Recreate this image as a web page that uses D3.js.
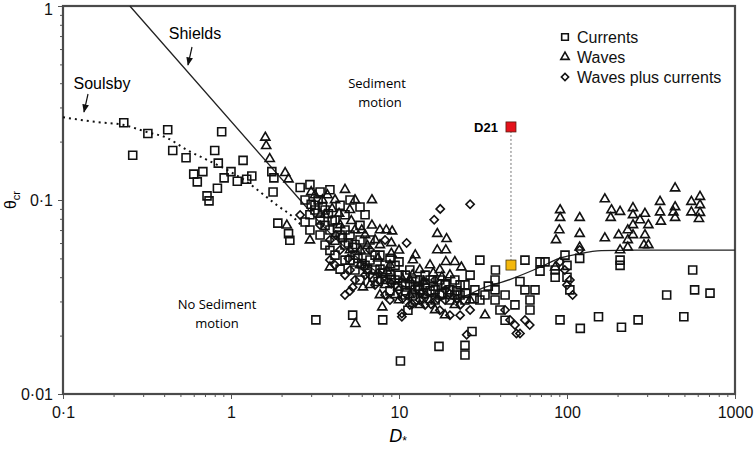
<!DOCTYPE html>
<html>
<head>
<meta charset="utf-8">
<script src="https://cdn.jsdelivr.net/npm/d3@7"></script>
<style>
    body { margin: 0; background: #fff; }
    text { font-family: "Liberation Sans", Arial, sans-serif; }
    .region { font-family: "Open Sans", sans-serif; font-size: 13px; }
    .marker { fill: none; stroke: #111; stroke-width: 1.6; }
</style>
</head>
<body>
<div id="chart"></div>
<script>
const width = 754
const height = 451
const margin = {
    top: 6,
    bottom: 57,
    left: 63,
    right: 19
}

// [D*, theta_cr]
const currents = [
    [0.23,0.25],[0.26,0.17],[0.32,0.22],[0.42,0.23],[0.45,0.18],[0.54,0.165],[0.6,0.136],[0.63,0.124],
    [0.68,0.14],[0.72,0.105],[0.74,0.099],[0.80,0.18],[0.84,0.155],[0.83,0.115],[0.88,0.225],[0.91,0.13],
    [1.0,0.14],[1.09,0.125],[1.18,0.16],[1.24,0.128],[1.33,0.133],[1.78,0.11],[1.75,0.14],[1.8,0.13],
    [1.9,0.076],[2.2,0.067],[2.24,0.062],
    [2.58,0.116],[2.95,0.12],[3.39,0.11],[3.88,0.113],[2.76,0.1],[3.16,0.094],[4.46,0.094],[5.11,0.1],
    [5.86,0.092],[4.77,0.084],[6.28,0.084],[2.95,0.084],[3.63,0.074],[3.39,0.066],[4.16,0.062],[3.88,0.055],
    [4.77,0.07],[5.47,0.059],[5.86,0.074],[5.11,0.049],[4.46,0.044],[6.28,0.046],[7.2,0.052],[7.71,0.044],
    [8.26,0.039],[9.47,0.046],[8.84,0.034],[10,0.041],[10.9,0.0365],[11.6,0.0436],[12.5,0.0387],[13.3,0.0344],
    [14.3,0.041],[15.3,0.034],[16.4,0.0305],[18.8,0.0365],[20.1,0.0305],[21.5,0.0387],[23.1,0.0324],[24.7,0.0365],
    [26.5,0.041],[34,0.036],[37.5,0.0436],[30.3,0.049],
    [37.3,0.0387],[37.3,0.0344],[37.3,0.0305],[39.9,0.0271],[42.8,0.024],[42.8,0.0324],[52.5,0.038],[56.2,0.049],
    [56.2,0.0344],[60.2,0.0305],[60.2,0.0271],[64.5,0.0344],[69.1,0.048],[69.1,0.043],[49,0.0288],
    [97.3,0.052],[100,0.046],[100,0.04],[104,0.0344],[85,0.0436],[85,0.040],[74,0.048],[119,0.050],[207,0.049],[207,0.046],
    [3.16,0.0888],[3.39,0.0788],[3.63,0.0888],[3.88,0.07],[4.16,0.0788],[4.46,0.066],[4.77,0.0586],[5.11,0.066],
    [5.47,0.052],[5.86,0.0622],[6.28,0.0552],[6.72,0.0491],[7.2,0.0436],[8.26,0.0462],[8.84,0.0411],[9.47,0.0387],
    [10.9,0.041],[11.6,0.0365],[12.5,0.0344],[13.3,0.0387],[15.3,0.0387],[16.4,0.0344],[17.5,0.0387],[17.5,0.0324],
    [20.1,0.0344],[21.5,0.0324],[24.7,0.0305],[4.77,0.049],[5.47,0.0436],[5.86,0.0387],[4.16,0.052],[3.63,0.0586],
    [2.95,0.07],[2.76,0.077],[6.72,0.0622],[7.7,0.052],[8.84,0.05],[10,0.048],[10.9,0.0324],[12.5,0.0305],
    [14.3,0.0365],[23.1,0.0365],[28.3,0.0344],[30.3,0.0305],[32.5,0.0324],
    [3.0,0.095],[3.3,0.1],[3.5,0.092],[3.8,0.085],[4.0,0.078],[4.3,0.072],[4.6,0.064],[5.0,0.06],[5.3,0.057],
    [5.7,0.05],[6.0,0.047],[6.5,0.044],[7.0,0.04],[7.5,0.038],[8.0,0.042],[9.0,0.039],[9.8,0.036],[11,0.034],
    [12,0.032],[13,0.036],[14,0.033],[16,0.036],[18,0.033],[19,0.037],[22,0.034],[25,0.033],[28,0.031],
    [3.2,0.0241],[5.3,0.0255],[8.0,0.0241],[11.3,0.027],[10.2,0.0148],[17.3,0.0176],[24.7,0.0178],[24.7,0.0159],
    [27.2,0.021],[90.9,0.0241],[120,0.0218],[154,0.025],[211,0.0221],[265,0.0241],[392,0.0324],[496,0.025],
    [560,0.0436],[575,0.0344],[710,0.0331]
]

const waves = [
    [1.6,0.21],[1.62,0.19],[1.7,0.163],[2.1,0.138],[2.2,0.128],[2.15,0.074],
    [3.75,0.106],[6.9,0.1],[6.9,0.074],[8.4,0.07],[9.1,0.069],[7.7,0.0586],[9.0,0.06],[9.0,0.053],[12.1,0.049],
    [3.88,0.045],[6.1,0.0355],[7.7,0.0324],[7.95,0.028],[5.5,0.023],[16.9,0.067],[19.2,0.063],[16.9,0.0552],
    [19,0.0552],[19,0.048],[32.5,0.0255],[15.3,0.0305],[13.3,0.0288],[11.6,0.0324],[10,0.0305],[5.1,0.089],
    [2.95,0.062],[3.4,0.084],[5.9,0.055],[21.5,0.048],[23.5,0.045],[26.5,0.0305],
    [3.16,0.106],[4.16,0.1],[4.77,0.113],[5.47,0.1],[3.63,0.084],[4.46,0.0743],[5.47,0.07],[6.28,0.066],
    [7.2,0.0622],[5.11,0.0552],[5.86,0.0462],[6.72,0.0365],[8.26,0.0365],[9.47,0.0324],[11.6,0.0387],[13.3,0.0436],
    [15.3,0.0462],[17.5,0.0436],[20.1,0.041],[21.5,0.0288],[16.4,0.0271],[18.8,0.0255],[8.84,0.0462],[10,0.055],
    [12.5,0.052],[7.7,0.07],
    [3.0,0.11],[3.5,0.1],[4.0,0.09],[4.4,0.085],[5.2,0.078],[6.0,0.07],[6.5,0.058],[7.5,0.05],[8.5,0.043],
    [10.5,0.039],[12,0.041],[14,0.038],[16,0.042],[18,0.04],
    [91,0.0888],[91,0.081],[90,0.07],[86,0.0622],[119,0.081],[119,0.067],[119,0.057],[85,0.045],
    [168,0.101],[184,0.0888],[207,0.087],[182,0.081],[168,0.0636],[203,0.066],[247,0.091],[247,0.0837],
    [247,0.0743],[247,0.066],[230,0.07],[230,0.0622],[272,0.0788],[291,0.085],[305,0.0743],[291,0.066],
    [305,0.0586],[207,0.0552],[230,0.057],[287,0.0586],[358,0.098],[358,0.0865],[362,0.0775],[440,0.115],
    [440,0.092],[440,0.081],[430,0.0865],[550,0.098],[619,0.104],[619,0.0942],[550,0.0865],[619,0.086],[610,0.08]
]

const wavesPlusCurrents = [
    [17.6,0.09],[16.2,0.079],[26.5,0.095],[11.1,0.06],[4.77,0.0324],[5.1,0.034],[5.3,0.0355],[10.4,0.026],
    [10.4,0.025],[25.3,0.0202],[50,0.0205],[52.5,0.0205],
    [3.88,0.0491],[4.46,0.0552],[6.72,0.041],[7.2,0.0365],[13.3,0.0305],[14.3,0.0288],[17.5,0.027],[20.1,0.0255],
    [26.5,0.0271],[42.8,0.0271],[45.8,0.0241],[49,0.0227],[56.2,0.0241],[60,0.0227],[97,0.0436],[100,0.0365],
    [104,0.0387],[108,0.0324],[119,0.0552],[91,0.048],[9.47,0.0365],[8.26,0.0324],[18.8,0.0305],[23.1,0.0288],
    [3.39,0.0743],[2.58,0.0837],
    [4.16,0.0462],[4.77,0.041],[5.47,0.0387],[6.28,0.041],[7.7,0.0387],[8.84,0.0305],[10,0.0344],[11.6,0.0288],
    [14.3,0.0324],[16.4,0.0387],[18.8,0.0344],[23.1,0.0255],[3.88,0.0622],[5.11,0.0436],[6.72,0.0552],[8.26,0.0622],
    [4.2,0.066],[5.0,0.05],[6.2,0.045],[7.5,0.042],[9,0.037],[10.5,0.031],[12,0.029],[13.5,0.033],[15.5,0.029],
    [17,0.031],[20,0.033],[22,0.031]
]

const shieldsCurve = [
    [0.25,1.0],[2.58,0.1],[3.5,0.074],[5,0.055],[7,0.044],[10,0.037],[15,0.032],[20,0.031],[26,0.0325],
    [30,0.0345],[46,0.039],[69,0.045],[90,0.05],[120,0.053],[160,0.0548],[250,0.0552],[1000,0.0552]
]

const soulsbyCurve = [
    [0.1,0.267],[0.159,0.252],[0.228,0.244],[0.316,0.224],[0.416,0.209],[0.547,0.181],[0.72,0.161],
    [0.946,0.143],[1.245,0.124],[1.49,0.11],[1.88,0.094],[2.34,0.0817],[2.68,0.0726]
]

const d21 = [46.4, 0.238]
const d21Model = [46.4, 0.0462]

const xTicks = [0.1, 1, 10, 100, 1000]
const xTickLabels = ["0·1", "1", "10", "100", "1000"]
const yTicks = [0.01, 0.1, 1]
const yTickLabels = ["0·01", "0·1", "1"]

const legendItems = ["Currents", "Waves", "Waves plus currents"]

const svg = d3.select("div#chart").append("svg").attr("width", width).attr("height", height)

const x = d3.scaleLog().domain([0.1, 1000]).range([margin.left, width - margin.right])
const y = d3.scaleLog().domain([0.01, 1]).range([height - margin.bottom, margin.top])

const minor = (lo, hi) => {
    let out = []
    for (let d = lo; d < hi; d *= 10) for (let k = 2; k <= 9; k++) out.push(d * k)
    return out
}

const axisGroup = svg.append("g").attr("id", "axisGroup")
const xMinor = axisGroup.append("g").attr("transform", `translate(0, ${height - margin.bottom})`)
    .call(d3.axisBottom(x).tickValues(minor(0.1, 1000)).tickSize(3).tickFormat(""))
const xMajor = axisGroup.append("g").attr("transform", `translate(0, ${height - margin.bottom})`)
    .call(d3.axisBottom(x).tickValues(xTicks).tickSize(5).tickPadding(8).tickFormat((d, i) => xTickLabels[i]))
const yMinor = axisGroup.append("g").attr("transform", `translate(${margin.left}, 0)`)
    .call(d3.axisLeft(y).tickValues(minor(0.01, 1)).tickSize(3).tickFormat(""))
const yMajor = axisGroup.append("g").attr("transform", `translate(${margin.left}, 0)`)
    .call(d3.axisLeft(y).tickValues(yTicks).tickSize(5).tickPadding(5).tickFormat((d, i) => yTickLabels[i]))

axisGroup.selectAll(".domain").remove()
axisGroup.selectAll(".tick line").attr("stroke", "#555")
axisGroup.selectAll(".tick text").attr("font-size", 16).attr("fill", "#111")
    .attr("font-family", "'Liberation Sans', Arial, sans-serif")
// keep the top label inside the picture
yMajor.selectAll(".tick text").filter(d => d == 1).attr("dy", "0.5em")

// frame
svg.append("rect").attr("x", margin.left).attr("y", margin.top)
    .attr("width", width - margin.left - margin.right).attr("height", height - margin.top - margin.bottom)
    .attr("fill", "none").attr("stroke", "#4a4a4a").attr("stroke-width", 2.2)

const elementGroup = svg.append("g").attr("id", "elementGroup")

// curves
const line = d3.line().x(d => x(d[0])).y(d => y(d[1])).curve(d3.curveMonotoneX)
elementGroup.append("path").datum(shieldsCurve).attr("d", line)
    .attr("fill", "none").attr("stroke", "#222").attr("stroke-width", 1.3)
elementGroup.append("path").datum(soulsbyCurve).attr("d", line)
    .attr("fill", "none").attr("stroke", "#111").attr("stroke-width", 2)
    .style("stroke-dasharray", ("2, 4"))

// markers
const square = d3.symbol().type(d3.symbolSquare).size(64)
const triangle = d3.symbol().type(d3.symbolTriangle).size(36)
const diamond = d3.symbol().type(d3.symbolSquare).size(34)

elementGroup.selectAll("path.cur").data(currents).enter().append("path")
    .attr("class", "marker cur").attr("d", square)
    .attr("transform", d => `translate(${x(d[0])}, ${y(d[1])})`)
elementGroup.selectAll("path.wav").data(waves).enter().append("path")
    .attr("class", "marker wav").attr("d", triangle)
    .attr("transform", d => `translate(${x(d[0])}, ${y(d[1])})`)
elementGroup.selectAll("path.wpc").data(wavesPlusCurrents).enter().append("path")
    .attr("class", "marker wpc").attr("d", diamond)
    .attr("transform", d => `translate(${x(d[0])}, ${y(d[1])}) rotate(45)`)

// D21
elementGroup.append("line")
    .attr("x1", x(d21[0])).attr("x2", x(d21Model[0]))
    .attr("y1", y(d21[1])).attr("y2", y(d21Model[1]))
    .attr("stroke", "#777").attr("stroke-width", 1).style("stroke-dasharray", ("2, 2"))
elementGroup.append("rect")
    .attr("x", x(d21[0]) - 5).attr("y", y(d21[1]) - 5).attr("width", 10).attr("height", 10)
    .attr("fill", "#e5121b").attr("stroke", "#5a1a10").attr("stroke-width", 0.8)
elementGroup.append("rect")
    .attr("x", x(d21Model[0]) - 5).attr("y", y(d21Model[1]) - 5).attr("width", 10).attr("height", 10)
    .attr("fill", "#f4b80c").attr("stroke", "#4a3a10").attr("stroke-width", 0.8)
elementGroup.append("text").text("D21")
    .attr("x", x(d21[0]) - 13).attr("y", y(d21[1]) + 5)
    .attr("text-anchor", "end").attr("font-weight", 700).attr("font-size", 13)

// annotations
const arrowDef = svg.append("defs").append("marker").attr("id", "arrow")
    .attr("viewBox", "0 0 10 10").attr("refX", 9).attr("refY", 5)
    .attr("markerWidth", 7).attr("markerHeight", 7).attr("orient", "auto")
arrowDef.append("path").attr("d", "M0,1 L10,5 L0,9 Z").attr("fill", "#111")

svg.append("text").text("Shields").attr("x", 195).attr("y", 39).attr("text-anchor", "middle").attr("font-size", 16)
svg.append("line").attr("x1", 192).attr("y1", 47).attr("x2", 188).attr("y2", 65)
    .attr("stroke", "#111").attr("stroke-width", 1.2).attr("marker-end", "url(#arrow)")
svg.append("text").text("Soulsby").attr("x", 102).attr("y", 89).attr("text-anchor", "middle").attr("font-size", 16)
svg.append("line").attr("x1", 88).attr("y1", 94).attr("x2", 84).attr("y2", 112)
    .attr("stroke", "#111").attr("stroke-width", 1.2).attr("marker-end", "url(#arrow)")

svg.append("text").attr("class", "region").text("Sediment").attr("x", 377).attr("y", 88).attr("text-anchor", "middle")
svg.append("text").attr("class", "region").text("motion").attr("x", 380).attr("y", 107).attr("text-anchor", "middle")
svg.append("text").attr("class", "region").text("No Sediment").attr("x", 217).attr("y", 309).attr("text-anchor", "middle")
svg.append("text").attr("class", "region").text("motion").attr("x", 217).attr("y", 328).attr("text-anchor", "middle")

// legend
const legendSymbols = [
    d3.symbol().type(d3.symbolSquare).size(44),
    d3.symbol().type(d3.symbolTriangle).size(30),
    d3.symbol().type(d3.symbolSquare).size(26)
]
legendItems.forEach((name, i) => {
    const ly = 37 + i * 20
    svg.append("path").attr("class", "marker").attr("d", legendSymbols[i]())
        .attr("stroke-width", 1.8)
        .attr("transform", `translate(565, ${ly}) rotate(${i == 2 ? 45 : 0})`)
    svg.append("text").text(name).attr("x", 577).attr("y", ly).attr("font-size", 16)
        .attr("dominant-baseline", "central").attr("fill", "#111")
})

// axis titles
const yLabel = svg.append("text").attr("transform", `translate(16, 200) rotate(-90)`)
    .attr("text-anchor", "middle").attr("font-size", 16)
yLabel.append("tspan").text("θ")
yLabel.append("tspan").text("cr").attr("font-size", 11).attr("dy", 4)

const xLabel = svg.append("text").attr("x", 398).attr("y", 442).attr("text-anchor", "middle")
    .attr("font-size", 18).attr("font-style", "italic")
xLabel.append("tspan").text("D")
xLabel.append("tspan").text("*").attr("font-size", 12).attr("dy", 3).attr("font-style", "normal")
</script>
</body>
</html>
